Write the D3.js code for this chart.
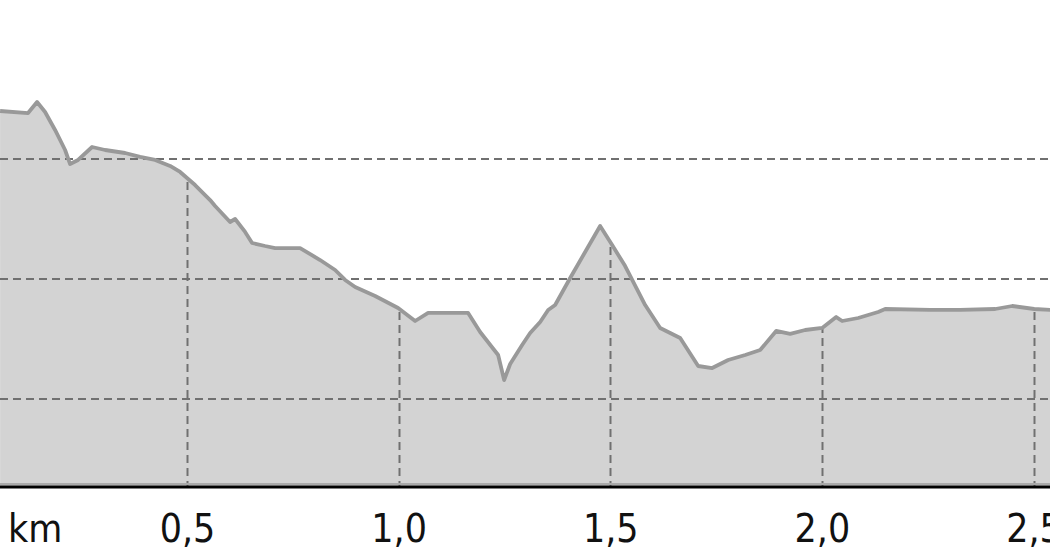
<!DOCTYPE html>
<html><head><meta charset="utf-8">
<script src="https://cdn.jsdelivr.net/npm/d3@7"></script>
<style>html,body{margin:0;padding:0;background:#fff;overflow:hidden}</style>
</head><body>
<svg id="c" width="1050" height="560"></svg>
<script>
const distKm = [0.0584,0.1245,0.1458,0.1647,0.1883,0.2120,0.2238,0.2427,0.2758,0.3065,0.3537,0.3892,0.4246,0.4601,0.4837,0.5191,0.5546,0.5664,0.6018,0.6137,0.6373,0.6538,0.6846,0.7082,0.7672,0.8145,0.8500,0.8736,0.8972,0.9445,0.9988,1.0390,1.0697,1.1642,1.1926,1.2351,1.2493,1.2635,1.2918,1.3107,1.3344,1.3533,1.3698,1.4053,1.4407,1.4761,1.5045,1.5352,1.5825,1.6179,1.6652,1.7077,1.7408,1.7786,1.8188,1.8542,1.8920,1.9251,1.9606,2.0007,2.0338,2.0480,2.0858,2.1330,2.1496,2.2559,2.3268,2.4095,2.4497,2.5017,2.5395,2.5900];
const elevM = [124.0,123.83,124.75,123.92,122.42,120.75,119.58,119.92,121.0,120.75,120.5,120.17,119.92,119.42,118.92,117.83,116.58,116.08,114.75,115.0,113.92,113.0,112.75,112.58,112.58,111.58,110.75,109.92,109.33,108.58,107.58,106.5,107.17,107.17,105.58,103.67,101.58,102.92,104.5,105.5,106.42,107.42,107.83,110.08,112.25,114.42,112.83,111.08,107.83,105.92,105.08,102.75,102.58,103.25,103.67,104.08,105.67,105.42,105.75,105.92,106.83,106.5,106.75,107.25,107.5,107.42,107.42,107.5,107.75,107.5,107.42,107.42];
const xTicks = [0.5,1.0,1.5,2.0,2.5];
const yGrid = [100,110,120];
const unitLabel = "km";

const svg = d3.select("#c");
const W = 1050;
const baseY = 487;
const x = d3.scaleLinear().domain([0.5,2.5]).range([187,1033.5]);
const y = d3.scaleLinear().domain([100,120]).range([399,159]);
const data = distKm.map((d,i)=>({d, e: elevM[i]}));

const area = d3.area().x(p=>x(p.d)).y0(baseY).y1(p=>y(p.e));
const line = d3.line().x(p=>x(p.d)).y(p=>y(p.e));

svg.append("defs").append("clipPath").attr("id","ac")
  .append("path").attr("d", area(data));

svg.append("path").attr("d", area(data)).attr("fill","#d3d3d3");

// vertical grid (inside area only)
svg.append("g").attr("clip-path","url(#ac)").selectAll("line").data(xTicks).join("line")
  .attr("x1",d=>Math.round(x(d))+0.5).attr("x2",d=>Math.round(x(d))+0.5)
  .attr("y1",0).attr("y2",baseY)
  .attr("stroke","#707070").attr("stroke-width",2).attr("stroke-dasharray","8,5");

// horizontal grid
svg.append("g").selectAll("line").data(yGrid).join("line")
  .attr("x1",0).attr("x2",W)
  .attr("y1",d=>y(d)).attr("y2",d=>y(d))
  .attr("stroke","#707070").attr("stroke-width",2).attr("stroke-dasharray","8,5");

// profile line
svg.append("path").attr("d", line(data)).attr("fill","none")
  .attr("stroke","#999").attr("stroke-width",3.8).attr("stroke-linejoin","round");

// bottom gray edge + black axis line
svg.append("line").attr("x1",0).attr("x2",W).attr("y1",baseY-3).attr("y2",baseY-3)
  .attr("stroke","#aaa").attr("stroke-width",2);

const ax = svg.append("g").attr("transform",`translate(0,${baseY})`)
  .call(d3.axisBottom(x).tickValues(xTicks).tickSize(0)
    .tickFormat(d=>d3.format(".1f")(d).replace(".",",")));
ax.select(".domain").attr("d",`M0,0H${W}`).attr("stroke","#000").attr("stroke-width",3);
const sy = 1.13;
ax.selectAll("text").attr("font-family","DejaVu Sans").attr("font-size",35)
  .attr("fill","#111").attr("dy",0).attr("y",55/sy)
  .attr("transform",`scale(1,${sy})`);

svg.append("text").attr("x",8).attr("y",(baseY+55)/sy)
  .attr("transform",`scale(1,${sy})`)
  .attr("font-family","DejaVu Sans").attr("font-size",35).attr("fill","#111")
  .text(unitLabel);
</script>
</body></html>
